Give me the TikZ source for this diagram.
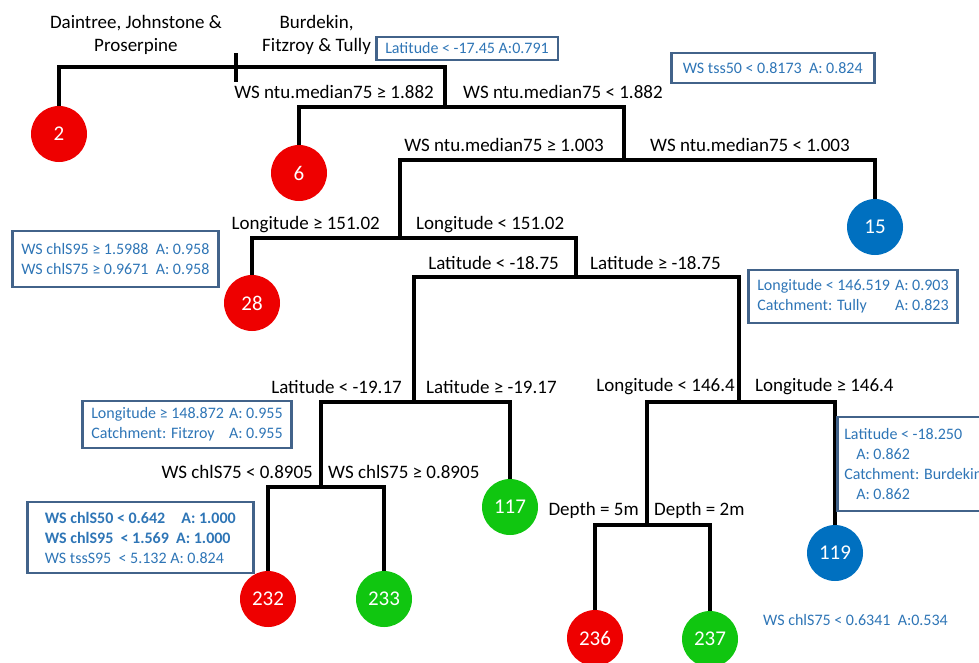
\documentclass[tikz,border=0pt]{standalone}
\usepackage{fontspec}
\setmainfont{Carlito}
\usetikzlibrary{positioning}
\definecolor{leafred}{RGB}{238,0,0}
\definecolor{leafgreen}{RGB}{16,198,16}
\definecolor{leafblue}{RGB}{0,112,192}
\definecolor{noteframe}{RGB}{66,99,138}
\definecolor{notetext}{RGB}{46,117,182}
\tikzset{
  leaf/.style={
    circle,
    minimum size=56pt,
    inner sep=0pt,
    text=white,
    font=\fontsize{21}{25}\selectfont
  },
  redleaf/.style={leaf, fill=leafred},
  greenleaf/.style={leaf, fill=leafgreen},
  blueleaf/.style={leaf, fill=leafblue},
  branch/.style={line width=4pt},
  cutleft/.style={inner sep=0pt, font=\fontsize{19}{23}\selectfont, anchor=base east},
  cutright/.style={inner sep=0pt, font=\fontsize{19}{23}\selectfont, anchor=base west},
  catchlabel/.style={inner sep=0pt, align=center, font=\fontsize{19}{23}\selectfont},
  infobox/.style={
    draw=noteframe,
    line width=2.5pt,
    text=notetext,
    align=left,
    anchor=west,
    inner xsep=9pt,
    inner ysep=3pt,
    font=\fontsize{16}{20}\selectfont
  }
}

\begin{document}
\begin{tikzpicture}[x=1pt, y=1pt]
    \useasboundingbox (0,0) rectangle (979,-662);

    \coordinate (rtop) at (236,-53);
    \coordinate (rbot) at (236,-82);
    \coordinate (split0) at (236,-67);
    \coordinate (split1) at (445,-107);
    \coordinate (split2) at (624,-160);
    \coordinate (split3) at (400,-238);
    \coordinate (split4) at (576,-277);
    \coordinate (split5) at (414,-402);
    \coordinate (split6) at (739,-402);
    \coordinate (split7) at (321,-487);
    \coordinate (split8) at (647,-525);

    \node[redleaf] (leaf2) at (59,-134) {2};
    \node[redleaf] (leaf6) at (299,-173) {6};
    \node[blueleaf] (leaf15) at (875,-227) {15};
    \node[redleaf] (leaf28) at (252,-303) {28};
    \node[greenleaf] (leaf117) at (510,-507) {117};
    \node[redleaf] (leaf232) at (268,-599) {232};
    \node[greenleaf] (leaf233) at (384,-599) {233};
    \node[blueleaf] (leaf119) at (835,-553) {119};
    \node[redleaf] (leaf236) at (595,-638) {236};
    \node[greenleaf] (leaf237) at (710,-639) {237};

    \draw[branch] (rtop) -- (rbot);
    \draw[branch] (leaf2) |- (split0) -| (split1);
    \draw[branch] (leaf6) |- (split1) -| (split2);
    \draw[branch] (split3) |- (split2) -| (leaf15);
    \draw[branch] (leaf28) |- (split3) -| (split4);
    \draw[branch] (split5) |- (split4) -| (split6);
    \draw[branch] (split7) |- (split5) -| (leaf117);
    \draw[branch] (leaf232) |- (split7) -| (leaf233);
    \draw[branch] (split8) |- (split6) -| (leaf119);
    \draw[branch] (leaf236) |- (split8) -| (leaf237);

    \node[catchlabel, above left=-2pt and 14pt of rtop] (south) {Daintree, Johnstone \&\\Proserpine};
    \node[catchlabel, above right=-2pt and 26pt of rtop] (north) {Burdekin,\\Fitzroy \& Tully};

    \node[above left=8.5pt and 11pt of split1, cutleft] (c1l) {WS ntu.median75 ≥ 1.882};
    \node[above right=8.5pt and 18pt of split1, cutright] (c1r) {WS ntu.median75 < 1.882};
    \node[above left=8.5pt and 20pt of split2, cutleft] (c2l) {WS ntu.median75 ≥ 1.003};
    \node[above right=8.5pt and 26pt of split2, cutright] (c2r) {WS ntu.median75 < 1.003};
    \node[above left=8.5pt and 20pt of split3, cutleft] (c3l) {Longitude ≥ 151.02};
    \node[above right=8.5pt and 16pt of split3, cutright] (c3r) {Longitude < 151.02};
    \node[above left=7.5pt and 17pt of split4, cutleft] (c4l) {Latitude < -18.75};
    \node[above right=7.5pt and 14pt of split4, cutright] (c4r) {Latitude ≥ -18.75};
    \node[above left=8.5pt and 12pt of split5, cutleft] (c5l) {Latitude < -19.17};
    \node[above right=8.5pt and 12pt of split5, cutright] (c5r) {Latitude ≥ -19.17};
    \node[above left=10.5pt and 4pt of split6, cutleft] (c6l) {Longitude < 146.4};
    \node[above right=10.5pt and 16pt of split6, cutright] (c6r) {Longitude ≥ 146.4};
    \node[above left=8.5pt and 8pt of split7, cutleft] (c7l) {WS chlS75 < 0.8905};
    \node[above right=8.5pt and 7pt of split7, cutright] (c7r) {WS chlS75 ≥ 0.8905};
    \node[above left=9.5pt and 8pt of split8, cutleft] (c8l) {Depth = 5m};
    \node[above right=9.5pt and 7pt of split8, cutright] (c8r) {Depth = 2m};

    \node[infobox, minimum height=23pt] (boxa) at (375,-48.5) {Latitude < -17.45 A:0.791};
    \node[infobox, minimum height=30pt, minimum width=203pt] (boxb) at (670,-68) {WS tss50 < 0.8173~ A: 0.824};
    \node[infobox, minimum height=56pt] (boxc) at (11,-259) {WS chlS95 ≥ 1.5988~ A: 0.958\\WS chlS75 ≥ 0.9671~ A: 0.958};
    \node[infobox, minimum height=53pt] (boxd) at (747,-296.5) {\begin{tabular}{@{}l@{\hspace{5pt}}l@{}}Longitude < 146.519 & A: 0.903\\Catchment: Tully & A: 0.823\end{tabular}};
    \node[infobox, minimum height=47pt] (boxe) at (81,-424.5) {\begin{tabular}{@{}l@{\hspace{5pt}}l@{}}Longitude ≥ 148.872 & A: 0.955\\Catchment: Fitzroy & A: 0.955\end{tabular}};
    \node[infobox, minimum height=94pt, inner xsep=7pt] (boxf) at (836,-464) {Latitude < -18.250\\\hspace{12pt}A: 0.862\\Catchment: Burdekin\\\hspace{12pt}A: 0.862};
    \node[infobox, minimum height=71pt, minimum width=226pt] (boxg) at (26,-537.5) {\textbf{WS chlS50 < 0.642\quad A: 1.000}\\\textbf{WS chlS95~ < 1.569~ A: 1.000}\\WS tssS95~ < 5.132 A: 0.824};
    \node[text=notetext, anchor=west, inner sep=0pt, font=\fontsize{16}{20}\selectfont] (tip) at (763,-620) {WS chlS75 < 0.6341~ A:0.534};
\end{tikzpicture}
\end{document}
